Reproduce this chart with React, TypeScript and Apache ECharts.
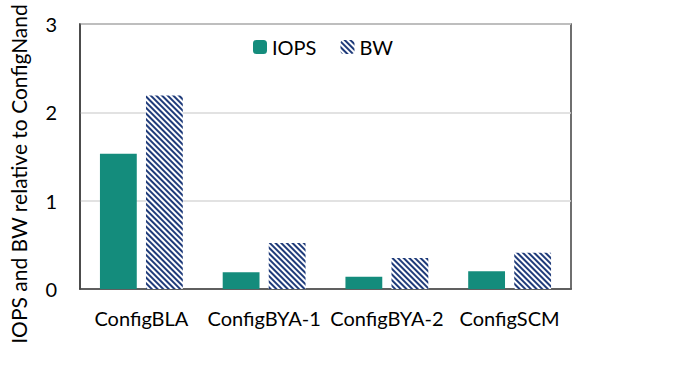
import React, { useEffect, useRef } from "react";
import * as echarts from "echarts";

const categories = ["ConfigBLA", "ConfigBYA-1", "ConfigBYA-2", "ConfigSCM"];
const iopsValues = [1.53, 0.19, 0.14, 0.2];
const bwValues = [2.19, 0.52, 0.35, 0.41];
const yTicks = [0, 1, 2, 3];
const yTitle = "IOPS and BW relative to ConfigNand";

const FONT = "Lato, 'Liberation Sans', sans-serif";
const TEAL = "#148c7c";
const NAVY = "#1f3b7a";

export default function App() {
  const ref = useRef<HTMLDivElement>(null);
  useEffect(() => {
    document.body.style.margin = "0";
    if (!ref.current) return;
    const chart = echarts.init(ref.current, null, { renderer: "svg" });
    chart.setOption({
      animation: false,
      legend: {
        top: 32,
        left: 248,
        itemWidth: 14,
        itemHeight: 14,
        itemGap: 24,
        textStyle: { fontFamily: FONT, fontSize: 20, color: "#000" },
        data: ["IOPS", "BW"],
      },
      grid: {
        left: 80,
        top: 24,
        right: 117,
        bottom: 77,
        show: true,
        borderColor: "#404040",
        borderWidth: 1.5,
      },
      xAxis: {
        type: "category",
        data: categories,
        axisTick: { show: false },
        axisLine: { lineStyle: { color: "#404040", width: 1.5 } },
        axisLabel: {
          interval: 0,
          fontFamily: FONT,
          fontSize: 20,
          color: "#000",
          margin: 19,
        },
      },
      yAxis: {
        type: "value",
        min: yTicks[0],
        max: yTicks[yTicks.length - 1],
        interval: 1,
        axisLine: { show: true, lineStyle: { color: "#404040", width: 1.5 } },
        axisTick: { show: false },
        splitLine: { lineStyle: { color: "#d9d9d9", width: 1.5 } },
        axisLabel: {
          fontFamily: FONT,
          fontSize: 20,
          color: "#000",
          margin: 23,
        },
      },
      graphic: [
        {
          type: "text",
          x: 18,
          y: 174,
          rotation: Math.PI / 2,
          style: {
            text: yTitle,
            fontFamily: FONT,
            fontSize: 21,
            fill: "#000",
            align: "center",
            verticalAlign: "middle",
          },
        },
      ],
      series: [
        {
          name: "IOPS",
          type: "bar",
          data: iopsValues,
          barWidth: "30%",
          barGap: "25%",
          itemStyle: { color: TEAL },
        },
        {
          name: "BW",
          type: "bar",
          data: bwValues,
          barWidth: "30%",
          barGap: "25%",
          itemStyle: {
            color: "#ffffff",
            decal: {
              symbol: "rect",
              symbolSize: 1,
              color: NAVY,
              dashArrayX: [1, 0],
              dashArrayY: [1.6, 1.2],
              rotation: Math.PI / 4,
            },
          },
        },
      ],
    });
    return () => chart.dispose();
  }, []);
  return <div ref={ref} style={{ width: 688, height: 366 }} />;
}
